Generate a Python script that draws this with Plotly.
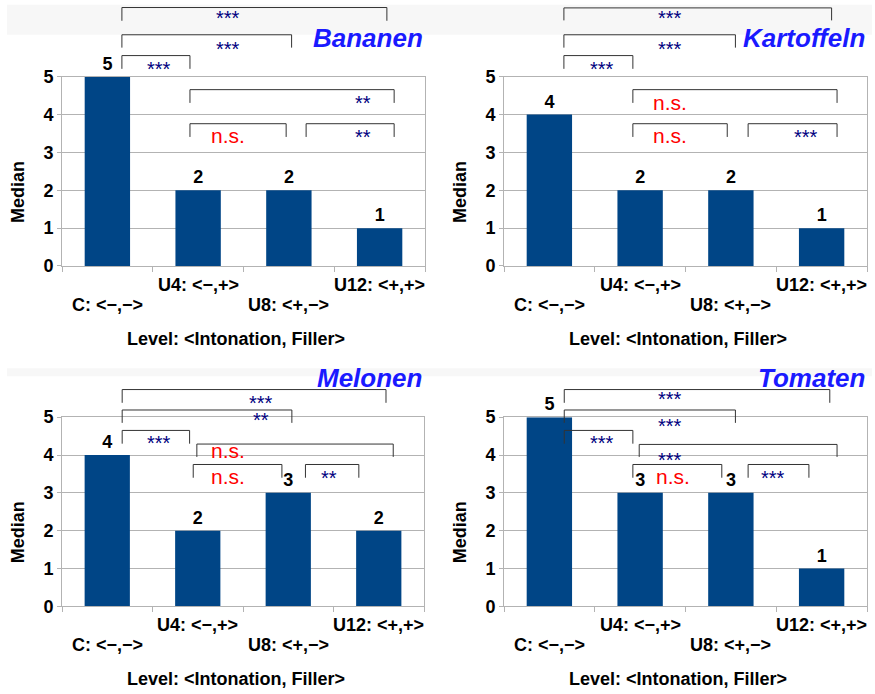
import plotly.graph_objects as go

# ---------------- data ----------------
categories = ["C: <−,−>", "U4: <−,+>", "U8: <+,−>", "U12: <+,+>"]
panel_names = ["Bananen", "Kartoffeln", "Melonen", "Tomaten"]
median_bananen = [5, 2, 2, 1]
median_kartoffeln = [4, 2, 2, 1]
median_melonen = [4, 2, 3, 2]
median_tomaten = [5, 3, 3, 1]
y_ticks = [0, 1, 2, 3, 4, 5]
x_title = "Level: <Intonation, Filler>"
y_title = "Median"

# pairwise comparisons (category i, category j, significance label)
sig_bananen = [(0, 3, "***"), (0, 2, "***"), (0, 1, "***"), (1, 3, "**"), (1, 2, "n.s."), (2, 3, "**")]
sig_kartoffeln = [(0, 3, "***"), (0, 2, "***"), (0, 1, "***"), (1, 3, "n.s."), (1, 2, "n.s."), (2, 3, "***")]
sig_melonen = [(0, 3, "***"), (0, 2, "**"), (0, 1, "***"), (1, 3, "n.s."), (1, 2, "n.s."), (2, 3, "**")]
sig_tomaten = [(0, 3, "***"), (0, 2, "***"), (0, 1, "***"), (1, 3, "***"), (1, 2, "n.s."), (2, 3, "***")]

medians = [median_bananen, median_kartoffeln, median_melonen, median_tomaten]
sigs = [sig_bananen, sig_kartoffeln, sig_melonen, sig_tomaten]

# ---------------- layout geometry ----------------
W, H = 875, 694
# vertical placement calibration of the rendered page
V_OFF, V_H = 10.3, 673.2
# plot boxes in pixels: left, right, top (value 5), bottom (value 0)
boxes = [(62, 425, 77, 266), (504, 867, 77, 266), (62, 424, 417, 606), (504, 867, 417, 606)]
# bracket geometry per panel, same order as comparisons:
# (x_left, x_right, y_top, y_bottom, label_x, label_y) in category / value units
brackets = [
    [(0.16, 3.08, 6.83, 6.48, 1.33, 6.67), (0.16, 2.03, 6.11, 5.77, 1.33, 5.85),
     (0.16, 0.91, 5.56, 5.21, 0.57, 5.32), (0.91, 3.16, 4.66, 4.31, 2.82, 4.42),
     (0.91, 1.97, 3.76, 3.41, 1.33, 3.39), (2.19, 3.16, 3.76, 3.41, 2.82, 3.52)],
    [(0.16, 3.11, 6.82, 6.49, 1.33, 6.67), (0.16, 2.05, 6.11, 5.77, 1.33, 5.85),
     (0.16, 0.92, 5.56, 5.21, 0.58, 5.32), (0.92, 3.17, 4.66, 4.31, 1.33, 4.26),
     (0.92, 1.96, 3.76, 3.41, 1.33, 3.39), (2.19, 3.17, 3.76, 3.41, 2.83, 3.52)],
    [(0.165, 3.08, 5.73, 5.38, 1.70, 5.48), (0.165, 2.04, 5.19, 4.85, 1.70, 5.03),
     (0.165, 0.91, 4.65, 4.30, 0.57, 4.42), (0.99, 3.16, 4.29, 3.95, 1.33, 4.08),
     (0.95, 1.93, 3.75, 3.40, 1.33, 3.38), (2.19, 2.78, 3.75, 3.40, 2.45, 3.51)],
    [(0.164, 3.09, 5.73, 5.38, 1.33, 5.58), (0.164, 2.05, 5.19, 4.85, 1.33, 4.88),
     (0.164, 0.92, 4.65, 4.30, 0.58, 4.42), (0.99, 3.17, 4.28, 3.95, 1.33, 3.97),
     (0.92, 1.90, 3.75, 3.40, 1.36, 3.38), (2.19, 2.86, 3.75, 3.40, 2.46, 3.51)],
]

FONT = "Liberation Sans, Arial, sans-serif"
BAR_COLOR = "#004586"
GRID = "#b3b3b3"
STAR_COLOR = "#000080"
NS_COLOR = "#ff0000"
TITLE_COLOR = "#1a1aff"
LINE_COLOR = "#333333"

YMAX = 5.0
XMIN, XMAX = -0.5, 3.5


def fx(v):
    return (v - XMIN) / (XMAX - XMIN)


def fy(v):
    return v / YMAX


def px(p):
    return p / W


def py(p):
    return 1 - (p - V_OFF) / V_H


fig = go.Figure()
shapes = []
annotations = []

# faint header bands
for (y0, y1) in [(5, 35), (368, 376)]:
    shapes.append(dict(type="rect", xref="paper", yref="paper", x0=px(7), x1=px(872),
                       y0=py(y1), y1=py(y0), fillcolor="#f7f7f7", line=dict(width=0),
                       layer="below"))

layout_axes = {}
for k, name in enumerate(panel_names):
    sfx = "" if k == 0 else str(k + 1)
    xa, ya = "x" + sfx, "y" + sfx
    left, right, top, bottom = boxes[k]
    fig.add_trace(go.Bar(
        x=categories, y=medians[k], xaxis=xa, yaxis=ya,
        marker=dict(color=BAR_COLOR, line=dict(width=0)), width=0.5,
        text=[str(v) for v in medians[k]], textposition="outside",
        textfont=dict(family=FONT, size=18, color="#000000", weight="bold"),
        cliponaxis=False, showlegend=False, hoverinfo="skip",
    ))
    layout_axes["xaxis" + sfx] = dict(
        domain=[px(left), px(right)], anchor=ya, type="category",
        range=[XMIN, XMAX], showgrid=False, showline=True, mirror=True,
        linecolor=GRID, linewidth=1, ticks="outside", tickson="boundaries",
        ticklen=5, tickcolor=GRID, showticklabels=False, fixedrange=True,
    )
    layout_axes["yaxis" + sfx] = dict(
        domain=[py(bottom), py(top)], anchor=xa, range=[0, YMAX],
        tickvals=y_ticks, showgrid=True, gridcolor=GRID, gridwidth=1,
        zeroline=False, showline=True, mirror=True, linecolor=GRID, linewidth=1,
        ticks="outside", ticklen=4, tickcolor=GRID,
        tickfont=dict(family=FONT, size=18, color="#000000", weight="bold"),
        fixedrange=True,
    )

    # staggered category labels
    for i, cat in enumerate(categories):
        off = 19 if i % 2 == 1 else 39
        annotations.append(dict(
            text=cat, x=i, xref=xa, y=py(bottom + off), yref="paper",
            xanchor="center", yanchor="middle", showarrow=False,
            font=dict(family=FONT, size=18, color="#000000", weight="bold")))

    # axis titles
    annotations.append(dict(
        text=x_title, x=px(left + 174), y=py(bottom + 73), xref="paper", yref="paper",
        xanchor="center", yanchor="middle", showarrow=False,
        font=dict(family=FONT, size=18, color="#000000", weight="bold")))
    annotations.append(dict(
        text=y_title, x=px(left - 44), y=py(bottom - 74), xref="paper", yref="paper",
        xanchor="center", yanchor="middle", showarrow=False, textangle=-90,
        font=dict(family=FONT, size=18, color="#000000", weight="bold")))

    # panel title
    annotations.append(dict(
        text=name, x=px(right + 0), y=py(top - 39), xref="paper", yref="paper",
        xanchor="right", yanchor="middle", showarrow=False,
        font=dict(family=FONT, size=26, color=TITLE_COLOR, weight="bold", style="italic")))

    # significance brackets
    for (i, j, lab), (x0, x1, yt, yb, lx, ly) in zip(sigs[k], brackets[k]):
        for (ax0, ay0, ax1, ay1) in [(x0, yb, x0, yt), (x0, yt, x1, yt), (x1, yt, x1, yb)]:
            shapes.append(dict(type="line", xref=xa + " domain", yref=ya + " domain",
                               x0=fx(ax0), y0=fy(ay0), x1=fx(ax1), y1=fy(ay1),
                               line=dict(color=LINE_COLOR, width=1)))
        if lab == "n.s.":
            font = dict(family=FONT, size=21, color=NS_COLOR)
            ysh = 2
        else:
            font = dict(family=FONT, size=20, color=STAR_COLOR)
            ysh = -4
        annotations.append(dict(
            text=lab, x=fx(lx), y=fy(ly), xref=xa + " domain", yref=ya + " domain",
            xanchor="center", yanchor="middle", yshift=ysh, showarrow=False, font=font))

fig.update_layout(
    width=W, height=H, margin=dict(l=0, r=0, t=0, b=0, pad=0), autosize=False,
    paper_bgcolor="#ffffff", plot_bgcolor="#ffffff",
    shapes=shapes, annotations=annotations, bargap=0.5,
    font=dict(family=FONT),
    **layout_axes,
)

fig.write_html("out.html", config={"responsive": False, "displayModeBar": False},
               post_script="document.body.style.margin='0px';document.body.style.overflow='hidden';")
